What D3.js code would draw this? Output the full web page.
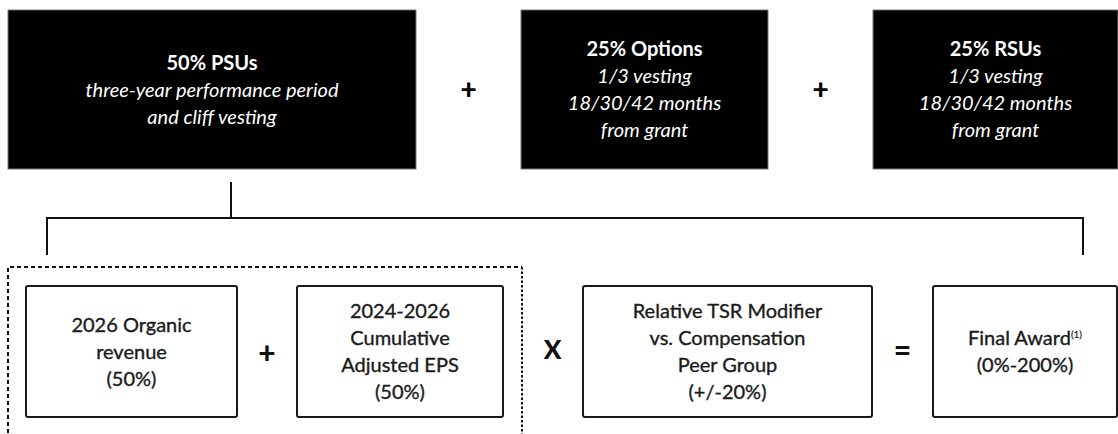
<!DOCTYPE html>
<html lang="en">
<head>
    <meta charset="UTF-8">
    <script src="https://d3js.org/d3.v7.min.js"></script>
    <title>PSU structure</title>
    <style>
        body { margin: 0; background: #fff; }
        text { font-family: Lato, "Open Sans", sans-serif; }
    </style>
</head>
<body>
    <script>
        var width = 1118,
            height = 434;

        // top row: award vehicles
        var awardTitles = ["50% PSUs", "25% Options", "25% RSUs"];
        var awardLines = [
            ["three-year performance period", "and cliff vesting"],
            ["1/3 vesting", "18/30/42 months", "from grant"],
            ["1/3 vesting", "18/30/42 months", "from grant"]
        ];
        var topOps = ["+", "+"];

        // bottom row: PSU formula
        var metricLines = [
            ["2026 Organic", "revenue", "(50%)"],
            ["2024-2026", "Cumulative", "Adjusted EPS", "(50%)"],
            ["Relative TSR Modifier", "vs. Compensation", "Peer Group", "(+/-20%)"],
            ["Final Award", "(0%-200%)"]
        ];
        var bottomOps = ["+", "X", "="];

        // layout (pixel grid of the original slide)
        var x = d3.scaleLinear().domain([0, 1118]).range([0, width]);
        var y = d3.scaleLinear().domain([0, 434]).range([0, height]);

        var topCols = [[8, 416], [521, 768], [873, 1118]];
        var topRow = [10, 169];
        var botCols = [[26, 237], [297, 503], [583, 872], [933, 1117]];
        var botRow = [286, 417];
        var lineH = 27, botLineH = 27;

        var svg = d3.select("body").append("svg")
            .attr("width", width)
            .attr("height", height);

        // top boxes
        var tops = svg.selectAll("g.award")
            .data(awardTitles)
            .enter().append("g")
            .attr("class", "award");

        tops.append("rect")
            .attr("x", function (d, i) { return x(topCols[i][0]); })
            .attr("y", y(topRow[0]))
            .attr("width", function (d, i) { return x(topCols[i][1]) - x(topCols[i][0]); })
            .attr("height", y(topRow[1]) - y(topRow[0]))
            .attr("fill", "#000")
            .attr("stroke", "#777")
            .attr("stroke-width", 1);

        tops.each(function (d, i) {
            var g = d3.select(this);
            var cx = x((topCols[i][0] + topCols[i][1]) / 2);
            var rows = [d].concat(awardLines[i]);
            var cy = y((topRow[0] + topRow[1]) / 2);
            var y0 = cy - (rows.length - 1) * lineH / 2;
            g.selectAll("text")
                .data(rows)
                .enter().append("text")
                .attr("x", cx)
                .attr("y", function (r, j) { return y0 + j * lineH; })
                .attr("dy", "0.35em")
                .attr("text-anchor", "middle")
                .attr("fill", "#fff")
                .attr("font-size", 20)
                .attr("font-weight", function (r, j) { return j == 0 ? "bold" : "normal"; })
                .attr("font-style", function (r, j) { return j == 0 ? "normal" : "italic"; })
                .text(function (r) { return r; });
        });

        svg.selectAll("text.topop")
            .data(topOps)
            .enter().append("text")
            .attr("class", "topop")
            .attr("x", function (d, i) { return x((topCols[i][1] + topCols[i + 1][0]) / 2); })
            .attr("y", y(89))
            .attr("dy", "0.35em")
            .attr("text-anchor", "middle")
            .attr("font-size", 28)
            .attr("font-weight", "900")
            .text(function (d) { return d; });

        // connector from PSUs down to the formula
        var stemX = x(231), barY = y(218), stemTop = y(182), legBottom = y(255);
        svg.append("path")
            .attr("d", "M" + stemX + "," + stemTop + "V" + barY +
                "M" + x(47) + "," + legBottom + "V" + barY + "H" + x(1083) + "V" + legBottom)
            .attr("fill", "none")
            .attr("stroke", "#111")
            .attr("stroke-width", 2);

        // dashed group around the two financial metrics
        var dl = x(8), dr = x(522), dt = y(267), db = y(440);
        svg.append("path")
            .attr("d", "M" + dl + "," + db + "V" + dt + "H" + dr)
            .attr("fill", "none")
            .attr("stroke", "#111")
            .attr("stroke-width", 2)
            .attr("stroke-dasharray", "4,3");
        svg.append("path")
            .attr("d", "M" + dr + "," + dt + "V" + db)
            .attr("fill", "none")
            .attr("stroke", "#111")
            .attr("stroke-width", 2)
            .attr("stroke-dasharray", "2.5,2");

        // bottom boxes
        var bots = svg.selectAll("g.metric")
            .data(metricLines)
            .enter().append("g")
            .attr("class", "metric");

        bots.append("rect")
            .attr("x", function (d, i) { return x(botCols[i][0]); })
            .attr("y", y(botRow[0]))
            .attr("width", function (d, i) { return x(botCols[i][1]) - x(botCols[i][0]); })
            .attr("height", y(botRow[1]) - y(botRow[0]))
            .attr("rx", 2)
            .attr("fill", "#fff")
            .attr("stroke", "#1a1a1a")
            .attr("stroke-width", 2);

        bots.each(function (d, i) {
            var g = d3.select(this);
            var cx = x((botCols[i][0] + botCols[i][1]) / 2);
            var cy = y((botRow[0] + botRow[1]) / 2);
            var y0 = cy - (d.length - 1) * botLineH / 2;
            var t = g.selectAll("text")
                .data(d)
                .enter().append("text")
                .attr("x", cx)
                .attr("y", function (r, j) { return y0 + j * botLineH; })
                .attr("dy", "0.35em")
                .attr("text-anchor", "middle")
                .attr("fill", "#1a1a1a")
                .attr("stroke", "#1a1a1a")
                .attr("stroke-width", 0.35)
                .attr("font-size", 20)
                .text(function (r) { return r; });
            // footnote marker on the final award
            if (i == 3) {
                t.filter(function (r, j) { return j == 0; })
                    .append("tspan")
                    .attr("font-size", 10)
                    .attr("stroke-width", 0.2)
                    .attr("dy", "-0.7em")
                    .text("(1)");
            }
        });

        svg.selectAll("text.botop")
            .data(bottomOps)
            .enter().append("text")
            .attr("class", "botop")
            .attr("x", function (d, i) {
                var gapL = i == 1 ? 522 : botCols[i][1];
                return x((gapL + botCols[i + 1][0]) / 2);
            })
            .attr("y", function (d, i) { return i == 0 ? y(353) : y(350); })
            .attr("dy", "0.35em")
            .attr("text-anchor", "middle")
            .attr("font-size", function (d) { return d == "X" ? 26 : 30; })
            .attr("font-weight", "900")
            .attr("fill", "#111")
            .text(function (d) { return d; });
    </script>
</body>
</html>
